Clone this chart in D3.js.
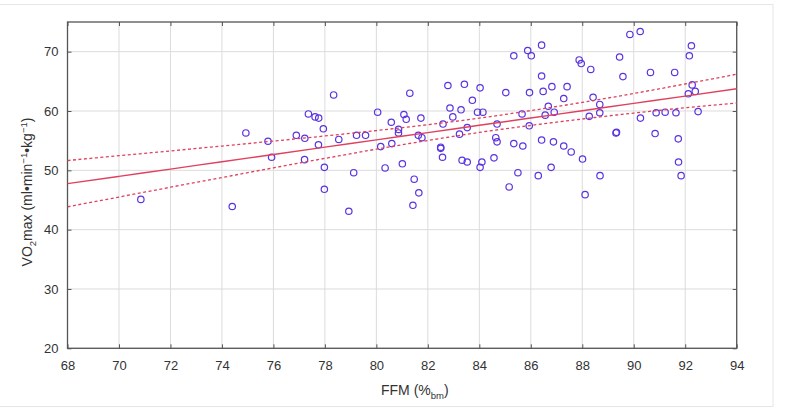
<!DOCTYPE html>
<html>
<head>
<meta charset="utf-8">
<script src="https://cdn.jsdelivr.net/npm/d3@7"></script>
<style>
    body { margin: 0; background: #fff; }
    svg { display: block; font-family: "Liberation Sans", Arial, sans-serif; }
    .grid line { stroke: #dcdcdc; stroke-width: 1; }
    .axis path { display: none; }
    .axis line { stroke: #555; }
    .axis text { fill: #333; font-size: 13px; }
</style>
</head>
<body>
<svg id="chart" width="790" height="408"></svg>
<script>
// measured points, FFM (%bm) vs VO2max
const ffm = [
    70.85, 74.4, 74.93, 75.79, 75.93, 76.89, 77.22, 77.21, 77.36, 77.62,
    77.76, 77.75, 77.94, 77.98, 77.98, 78.34, 78.54, 78.93, 79.12, 79.23,
    79.58, 80.05, 80.17, 80.34, 80.58, 80.6, 80.86, 80.86, 81.01, 81.07,
    81.16, 81.3, 81.42, 81.47, 81.65, 81.63, 81.73, 81.77, 82.5, 82.5,
    82.57, 82.59, 82.78, 82.86, 82.97, 83.23, 83.29, 83.33, 83.42, 83.53,
    83.53, 83.73, 83.93, 84.03, 84.03, 84.1, 84.14, 84.57, 84.64, 84.69,
    84.69, 85.03, 85.16, 85.34, 85.34, 85.5, 85.66, 85.69, 85.88, 85.94,
    85.95, 86.02, 86.29, 86.42, 86.42, 86.42, 86.48, 86.56, 86.68, 86.79,
    86.82, 86.88, 86.91, 87.28, 87.28, 87.41, 87.57, 87.88, 87.96, 88.01,
    88.11, 88.27, 88.33, 88.42, 88.68, 88.68, 88.69, 89.31, 89.33, 89.45,
    89.58, 89.85, 90.25, 90.26, 90.65, 90.83, 90.87, 91.22, 91.59, 91.64,
    91.73, 91.74, 91.84, 92.12, 92.16, 92.24, 92.27, 92.39, 92.5
]
const vo2 = [
    45.1, 43.9, 56.3, 54.9, 52.2, 55.9, 55.4, 51.8, 59.5, 59.0,
    58.8, 54.3, 57.0, 50.5, 46.8, 62.7, 55.2, 43.1, 49.6, 55.9,
    55.9, 59.8, 54.0, 50.4, 58.1, 54.5, 56.9, 56.3, 51.1, 59.4,
    58.6, 63.0, 44.1, 48.5, 46.2, 55.9, 58.8, 55.5, 53.7, 53.9,
    52.2, 57.8, 64.3, 60.5, 59.0, 56.1, 60.2, 51.7, 64.5, 57.2,
    51.4, 61.8, 59.8, 63.9, 50.5, 51.4, 59.8, 52.1, 55.5, 57.8,
    54.8, 63.1, 47.2, 69.3, 54.5, 49.6, 59.5, 54.1, 70.2, 57.5,
    63.1, 69.3, 49.1, 71.1, 65.9, 55.1, 63.3, 59.3, 60.8, 50.5,
    64.1, 54.8, 59.8, 62.1, 54.1, 64.1, 53.1, 68.6, 68.0, 51.9,
    45.9, 59.1, 67.0, 62.3, 61.1, 59.7, 49.1, 56.3, 56.4, 69.1,
    65.8, 72.9, 73.4, 58.8, 66.5, 56.2, 59.7, 59.8, 66.5, 59.7,
    55.3, 51.4, 49.1, 62.9, 69.3, 71.0, 64.4, 63.3, 59.9
]

// regression line and 95% band
const bandX = [68, 70, 72, 74, 76, 78, 80, 82, 84, 86, 88, 90, 92, 94]
const fitY = [47.75, 48.98, 50.21, 51.44, 52.67, 53.9, 55.13, 56.36, 57.59, 58.82, 60.05, 61.28, 62.51, 63.74]
const upperY = [51.65, 52.46, 53.27, 54.09, 54.93, 55.79, 56.7, 57.69, 58.79, 60.07, 61.45, 62.95, 64.55, 66.2]
const lowerY = [43.85, 45.5, 47.15, 48.79, 50.41, 52.01, 53.56, 55.03, 56.39, 57.57, 58.65, 59.65, 60.55, 61.35]

const xTicks = [68, 70, 72, 74, 76, 78, 80, 82, 84, 86, 88, 90, 92, 94]
const yTicks = [20, 30, 40, 50, 60, 70]

const svg = d3.select('#chart')
const m = { top: 22, right: 53.3, bottom: 59.7, left: 67.5 }
const w = 790 - m.left - m.right
const h = 408 - m.top - m.bottom

// outer light frame
svg.append('rect')
    .attr('x', -1).attr('y', 4.5)
    .attr('width', 774).attr('height', 402)
    .attr('fill', 'none').attr('stroke', '#e6e6e6')

const g = svg.append('g').attr('transform', `translate( ${m.left}, ${m.top} )`)

const x = d3.scaleLinear().domain([68, 94]).range([0, w])
const y = d3.scaleLinear().domain([20, 75]).range([h, 0])

g.append('g').attr('class', 'grid')
    .selectAll('line').data(xTicks).join('line')
    .attr('x1', d => x(d)).attr('x2', d => x(d))
    .attr('y1', 0).attr('y2', h)

g.append('g').attr('class', 'grid')
    .selectAll('line').data(yTicks).join('line')
    .attr('x1', 0).attr('x2', w)
    .attr('y1', d => y(d)).attr('y2', d => y(d))

// axes, ticks pointing inward
g.append('g').attr('class', 'axis')
    .attr('transform', `translate( 0, ${h} )`)
    .call( d3.axisBottom(x).tickValues(xTicks).tickSizeInner(-4).tickSizeOuter(0).tickPadding(12) )
    .call( a => a.selectAll('text').attr('dy', '0.71em') )

g.append('g').attr('class', 'axis')
    .call( d3.axisLeft(y).tickValues(yTicks).tickSizeInner(-4).tickSizeOuter(0).tickPadding(9) )

g.append('g').attr('class', 'axis')
    .call( d3.axisTop(x).tickValues(xTicks).tickSizeInner(-4).tickSizeOuter(0).tickFormat('') )

g.append('g').attr('class', 'axis')
    .attr('transform', `translate( ${w}, 0 )`)
    .call( d3.axisRight(y).tickValues(yTicks).tickSizeInner(-4).tickSizeOuter(0).tickFormat('') )

g.append('rect')
    .attr('width', w).attr('height', h)
    .attr('fill', 'none').attr('stroke', '#555').attr('stroke-width', 1.3)

// points
g.append('g')
    .selectAll('circle').data(ffm).join('circle')
    .attr('cx', d => x(d))
    .attr('cy', (d, i) => y(vo2[i]))
    .attr('r', 3.2)
    .attr('fill', 'none')
    .attr('stroke', '#5a33e0')
    .attr('stroke-width', 1.2)

const line = d3.line().x(d => x(d[0])).y(d => y(d[1])).curve(d3.curveMonotoneX)

g.append('path')
    .attr('d', line( d3.zip(bandX, fitY) ))
    .attr('fill', 'none').attr('stroke', '#e0405c').attr('stroke-width', 1.4)

;[upperY, lowerY].forEach( band => {
    g.append('path')
        .attr('d', line( d3.zip(bandX, band) ))
        .attr('fill', 'none').attr('stroke', '#e0405c').attr('stroke-width', 1.3)
        .attr('stroke-dasharray', '3,2.5')
} )

// titles
const xt = svg.append('text')
    .attr('x', 381).attr('y', 395)
    .attr('fill', '#333').style('font-size', '14px')
xt.append('tspan').text('FFM (%')
xt.append('tspan').attr('dy', 4).style('font-size', '9.5px').text('bm')
xt.append('tspan').attr('dy', -4).text(')')

const yt = svg.append('text')
    .attr('transform', 'translate( 32, 192 ) rotate( -90 )')
    .attr('text-anchor', 'middle')
    .attr('fill', '#333').style('font-size', '14px')
yt.append('tspan').text('VO')
yt.append('tspan').attr('dy', 4).style('font-size', '9.5px').text('2')
yt.append('tspan').attr('dy', -4).text('max (ml•min')
yt.append('tspan').attr('dy', -5).style('font-size', '9.5px').text('−1')
yt.append('tspan').attr('dy', 5).text('•kg')
yt.append('tspan').attr('dy', -5).style('font-size', '9.5px').text('−1')
yt.append('tspan').attr('dy', 5).text(')')
</script>
</body>
</html>
